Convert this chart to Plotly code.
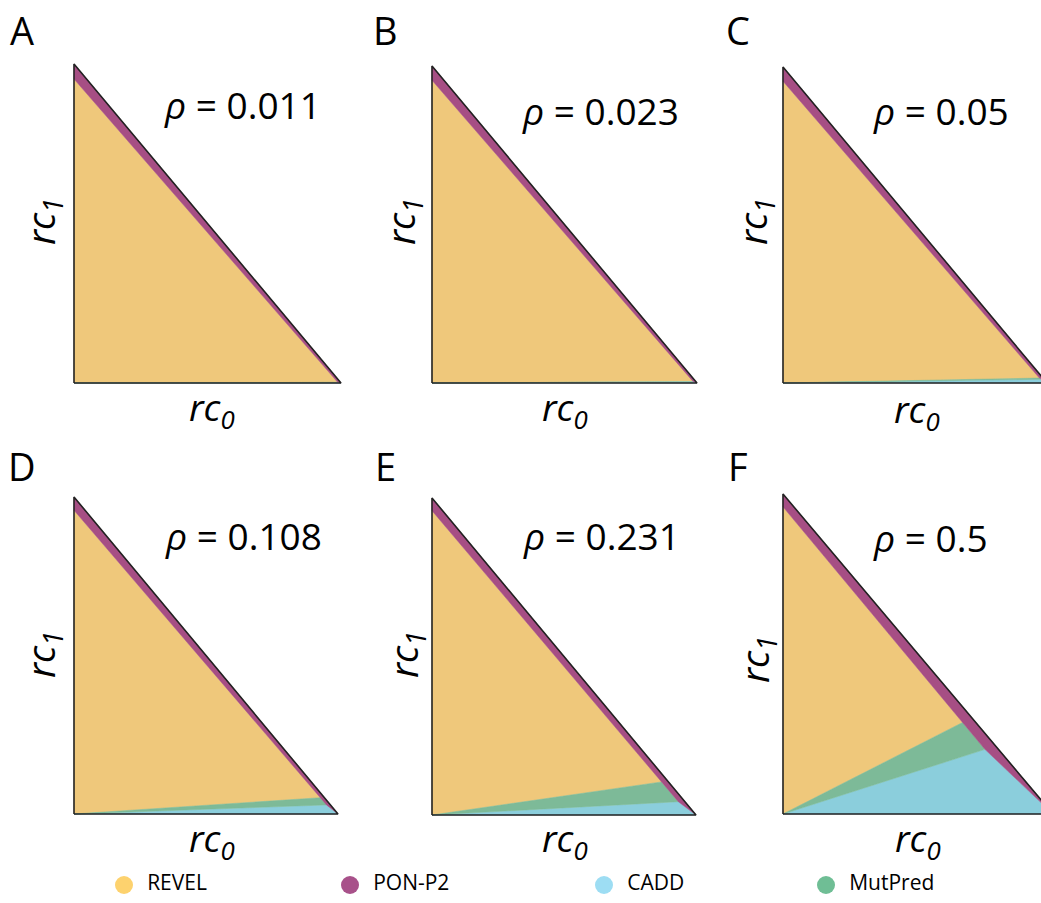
import plotly.graph_objects as go

# ---------------- data ----------------
panel_letters = ["A", "B", "C", "D", "E", "F"]
rho_values = [0.011, 0.023, 0.05, 0.108, 0.231, 0.5]
# PON-P2 band thickness (in rc1 units) at rc0 = 0 and at the CADD junction
pon_band_top = [0.047, 0.045, 0.045, 0.042, 0.040, 0.040]
pon_band_knee = [0.010, 0.010, 0.013, 0.015, 0.025, 0.050]
# upper boundary slopes (rc1/rc0) of the CADD and MutPred regions
cadd_slope = [0.002, 0.004, 0.012, 0.030, 0.045, 0.270]
mutpred_slope = [0.003, 0.006, 0.016, 0.055, 0.120, 0.430]

predictors = ["REVEL", "PON-P2", "CADD", "MutPred"]
fill_colors = {"REVEL": "#EFC87B", "PON-P2": "#A64E84", "CADD": "#8BCEDC", "MutPred": "#7DBA98"}
legend_colors = {"REVEL": "#FDD26E", "PON-P2": "#A8518A", "CADD": "#9DDDF3", "MutPred": "#6FBE95"}

# ---------------- layout constants (pixels) ----------------
W_PX, H_PX = 1041, 903
# triangle pixel boxes: left, right, top, bottom
boxes = [
    (74, 341, 64, 383),
    (432, 697, 66, 383),
    (783, 1047, 67, 383),
    (74, 338, 497, 814),
    (432, 696, 498, 815),
    (783, 1053, 494, 814),
]
letter_pos = [(22, 30), (386, 30), (738, 30), (22, 466), (386, 466), (738, 466)]
rho_pos = [(242, 104), (600, 110), (941, 110), (243, 535), (601, 535), (930, 537)]
rc0_pos = [(212, 409), (565, 409), (917, 411), (212, 840), (565, 840), (918, 840)]
rc1_pos = [(42, 222), (402, 222), (754, 222), (42, 655), (405, 655), (756, 660)]
legend_x_px = [124, 350, 604, 826]
legend_y_px = 885

FONT = "Open Sans"
fig = go.Figure()
pad = 0.02

for i in range(6):
    a = pon_band_top[i]
    d = pon_band_knee[i]
    sc = cadd_slope[i]
    sm = mutpred_slope[i]
    # junction of CADD ray with PON-P2 band
    jx = (1 - d) / (1 + sc)
    jy = sc * jx
    m = (jy - (1 - a)) / jx
    gx = (1 - a) / (sm - m)
    gy = sm * gx
    regions = {
        "CADD": ([0, 1, jx, 0], [0, 0, jy, 0]),
        "MutPred": ([0, jx, gx, 0], [0, jy, gy, 0]),
        "REVEL": ([0, gx, 0, 0], [0, gy, 1 - a, 0]),
        "PON-P2": ([0, 0, 1, jx, gx, 0], [1 - a, 1, 0, jy, gy, 1 - a]),
    }
    xa = "x" if i == 0 else f"x{i+1}"
    ya = "y" if i == 0 else f"y{i+1}"
    for name in ["REVEL", "CADD", "MutPred", "PON-P2"]:
        xs, ys = regions[name]
        fig.add_trace(go.Scatter(
            x=xs, y=ys, fill="toself", mode="lines",
            fillcolor=fill_colors[name],
            line=dict(color=fill_colors[name], width=0.5),
            xaxis=xa, yaxis=ya, showlegend=False, hoverinfo="skip"))
    # outline
    fig.add_trace(go.Scatter(
        x=[0, 1, 0, 0], y=[0, 0, 1, 0], mode="lines",
        line=dict(color="#222222", width=1.6),
        xaxis=xa, yaxis=ya, showlegend=False, hoverinfo="skip"))

    l, r, t, b = boxes[i]
    Wp, Hp = r - l, b - t
    dom_l = l - pad * Wp
    dom_r = r + pad * Wp
    hi = 1 + pad
    if dom_r > W_PX:
        hi = (W_PX - l) / Wp
        dom_r = W_PX
    lo = -pad
    xkey = "xaxis" if i == 0 else f"xaxis{i+1}"
    ykey = "yaxis" if i == 0 else f"yaxis{i+1}"
    fig.update_layout(**{
        xkey: dict(domain=[dom_l / W_PX, dom_r / W_PX], range=[lo, hi],
                   visible=False, anchor=ya, fixedrange=True),
        ykey: dict(domain=[1 - (b + pad * Hp) / H_PX, 1 - (t - pad * Hp) / H_PX],
                   range=[-pad, 1 + pad], visible=False, anchor=xa, fixedrange=True),
    })

    # texts
    lx, ly = letter_pos[i]
    fig.add_annotation(x=lx / W_PX, y=1 - ly / H_PX, xref="paper", yref="paper",
                       text=panel_letters[i], showarrow=False,
                       font=dict(family=FONT, size=38, color="black"),
                       xanchor="center", yanchor="middle")
    rx, ry = rho_pos[i]
    fig.add_annotation(x=rx / W_PX, y=1 - ry / H_PX, xref="paper", yref="paper",
                       text=f"<i>ρ</i> = {rho_values[i]}", showarrow=False,
                       font=dict(family=FONT, size=37, color="black"),
                       xanchor="center", yanchor="middle")
    cx, cy = rc0_pos[i]
    fig.add_annotation(x=cx / W_PX, y=1 - cy / H_PX, xref="paper", yref="paper",
                       text="<i>rc<sub>0</sub></i>", showarrow=False,
                       font=dict(family=FONT, size=37, color="black"),
                       xanchor="center", yanchor="middle")
    vx, vy = rc1_pos[i]
    fig.add_annotation(x=vx / W_PX, y=1 - vy / H_PX, xref="paper", yref="paper",
                       text="<i>rc<sub>1</sub></i>", showarrow=False, textangle=-90,
                       font=dict(family=FONT, size=38, color="black"),
                       xanchor="center", yanchor="middle")

# legend row (circle markers with labels) on its own hidden axis
fig.add_trace(go.Scatter(
    x=legend_x_px, y=[0.5] * len(predictors),
    mode="markers+text", text=["  " + p for p in predictors],
    textposition="middle right",
    textfont=dict(family=FONT, size=21, color="black"),
    marker=dict(symbol="circle", size=18,
                color=[legend_colors[p] for p in predictors]),
    xaxis="x7", yaxis="y7", showlegend=False, hoverinfo="skip", cliponaxis=False))

leg_h = 30
fig.update_layout(
    xaxis7=dict(domain=[0, 1], range=[0, W_PX], visible=False, anchor="y7", fixedrange=True),
    yaxis7=dict(domain=[1 - (legend_y_px + leg_h / 2) / H_PX, 1 - (legend_y_px - leg_h / 2) / H_PX],
                range=[0, 1], visible=False, anchor="x7", fixedrange=True),
    width=W_PX, height=H_PX,
    margin=dict(l=0, r=0, t=0, b=0),
    paper_bgcolor="white", plot_bgcolor="white",
    showlegend=False,
)

fig.write_html("out.html")
